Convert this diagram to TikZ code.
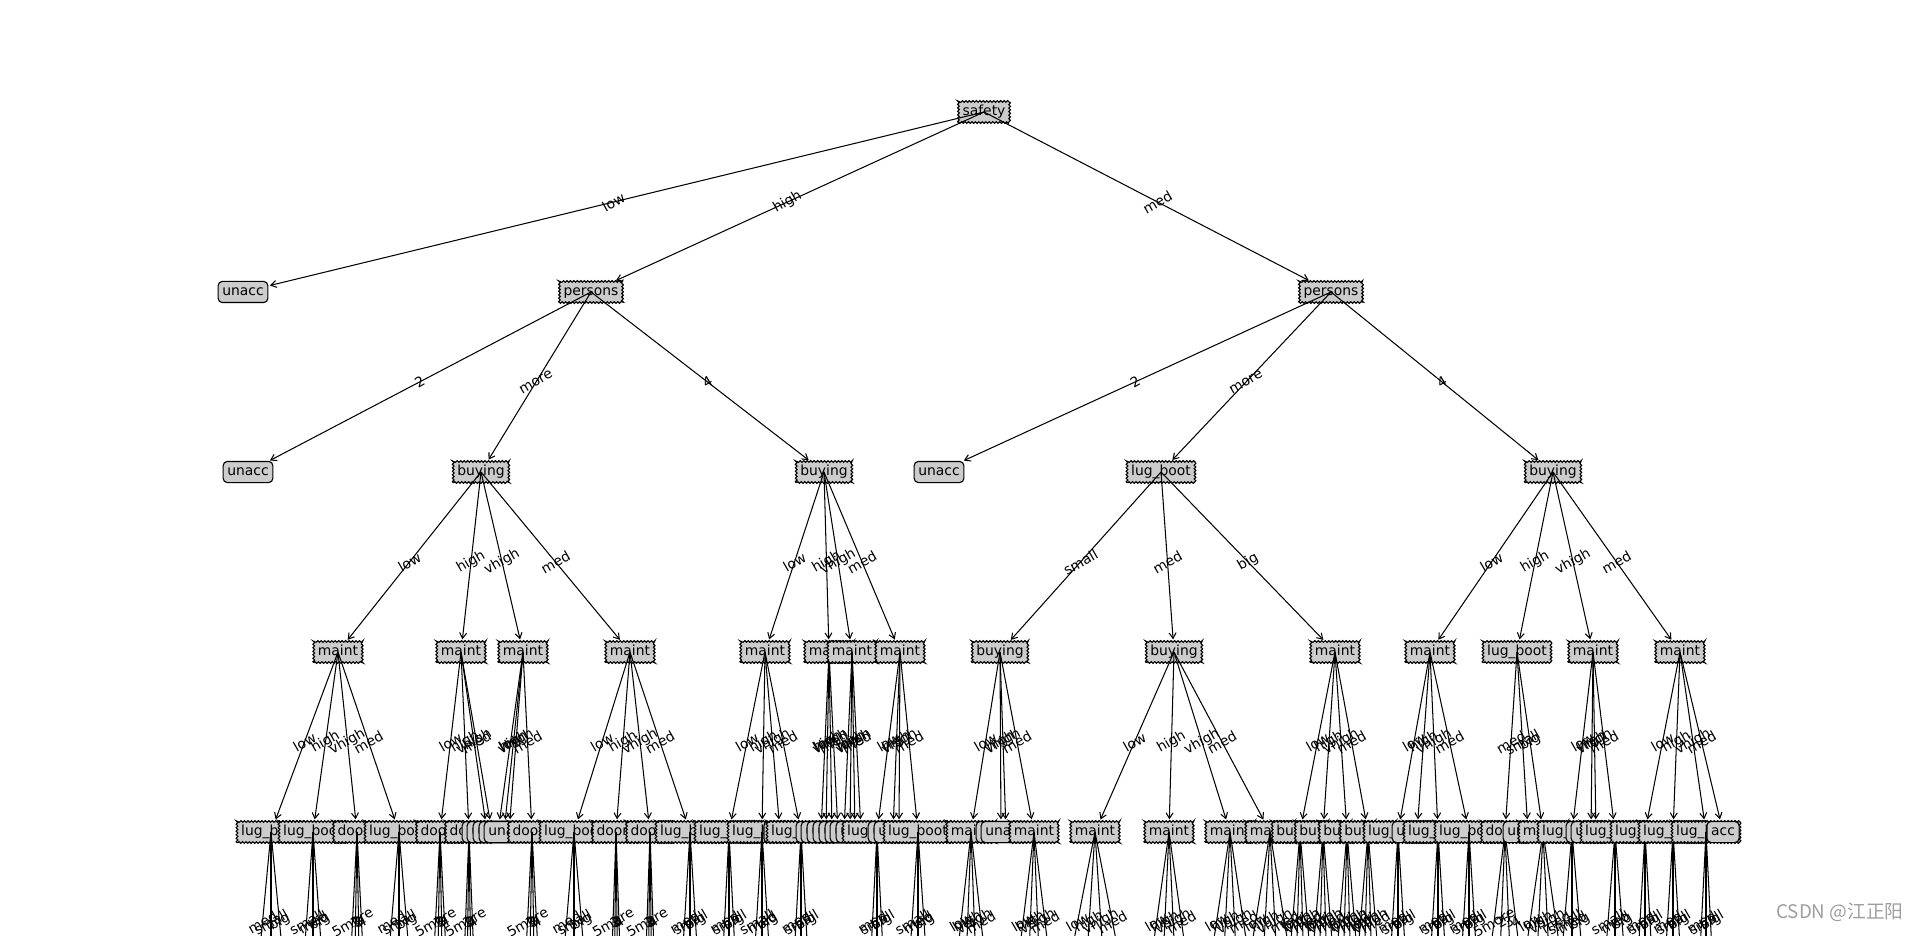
\documentclass[tikz,border=0pt]{standalone}
\usepackage{fontspec}
\setmainfont{DejaVu Sans}
\newfontfamily\cjkfont{Noto Sans CJK SC}
\usetikzlibrary{arrows.meta,calc,decorations.pathmorphing}
\definecolor{boxgray}{gray}{0.8}
\definecolor{wmgray}{gray}{0.62}
\tikzset{
 nd/.style={rectangle, inner xsep=3pt, inner ysep=3pt, text height=7.2pt, text depth=2pt, font=\fontsize{10}{12}\selectfont, outer sep=0pt},
 dec/.style={fill=boxgray, draw=black, line width=0.8pt, decorate, decoration={zigzag, segment length=2.5pt, amplitude=0.6pt}},
 leaf/.style={fill=boxgray, draw=black, line width=0.8pt, rounded corners=3pt},
 arr/.style={draw=black, line width=0.75pt, -{Straight Barb[length=4pt,width=5pt]}, shorten >=1.5pt},
 ln/.style={draw=black, line width=0.75pt},
 lbl/.style={rotate=30, inner sep=0pt, font=\fontsize{10}{12}\selectfont},
}
\newcommand\ndef[4]{\node[nd] (#1) at (#2,#3) {\phantom{#4}};\expandafter\gdef\csname T#1\endcsname{#4}}
\newcommand\nbox[2]{\path[#2] (#1.south west) rectangle (#1.north east);\node[nd] at (#1.center) {\csname T#1\endcsname};}
\newcommand\nedge[4]{\draw[arr] (#1.center) -- (#2);\path (#1.center) -- (#2.center) node[lbl,midway] {#3};\nbox{#2}{#4}}
\newcommand\nfan[4]{\foreach \flab [count=\fk] in {#4} {\pgfmathsetmacro\fdx{-#2+2*#2*(\fk-1)/(#3-1)}\coordinate (#1-\fk) at ($(#1.center)+(\fdx,180)$);\draw[ln] (#1.center) -- (#1-\fk) node[lbl,midway] {\flab};}}
\begin{document}
\begin{tikzpicture}[x=0.72pt, y={(0pt,-0.72pt)}]
\useasboundingbox (0,0) rectangle (1920,936);
\fill[white] (0,0) rectangle (1920,936);
\clip (0,0) rectangle (1920,936);
% ---------- node definitions ----------
\ndef{s}{984}{112}{safety}
\ndef{u0}{243}{292}{unacc}
\ndef{pA}{591}{292}{persons}
\ndef{pB}{1331}{292}{persons}
\ndef{u1}{248}{472}{unacc}
\ndef{bA1}{481}{472}{buying}
\ndef{bA2}{824}{472}{buying}
\ndef{u2}{939}{472}{unacc}
\ndef{lbB1}{1161}{472}{lug\_boot}
\ndef{bB2}{1553}{472}{buying}
\ndef{m1}{338}{652}{maint}
\ndef{m2}{461}{652}{maint}
\ndef{m3}{523}{652}{maint}
\ndef{m4}{630}{652}{maint}
\ndef{m5}{765}{652}{maint}
\ndef{m6}{829}{652}{maint}
\ndef{m7}{852}{652}{maint}
\ndef{m8}{900}{652}{maint}
\ndef{b1}{1000}{652}{buying}
\ndef{b2}{1174}{652}{buying}
\ndef{m9}{1335}{652}{maint}
\ndef{m10}{1430}{652}{maint}
\ndef{lb1}{1517}{652}{lug\_boot}
\ndef{m11}{1593}{652}{maint}
\ndef{m12}{1680}{652}{maint}
\ndef{n1}{271}{832}{lug\_boot}
\ndef{n2}{313}{832}{lug\_boot}
\ndef{n3}{357}{832}{doors}
\ndef{n4}{399}{832}{lug\_boot}
\ndef{n5}{440}{832}{doors}
\ndef{n6}{469}{832}{doors}
\ndef{n7}{487}{832}{unacc}
\ndef{n8}{492}{832}{unacc}
\ndef{n9}{498}{832}{unacc}
\ndef{n10}{504}{832}{unacc}
\ndef{n11}{509}{832}{unacc}
\ndef{n12}{532}{832}{doors}
\ndef{n13}{574}{832}{lug\_boot}
\ndef{n14}{616}{832}{doors}
\ndef{n15}{650}{832}{doors}
\ndef{n16}{690}{832}{lug\_boot}
\ndef{n17}{729}{832}{lug\_boot}
\ndef{n18}{762}{832}{lug\_boot}
\ndef{n19}{780}{832}{acc}
\ndef{n20}{801}{832}{lug\_boot}
\ndef{n21}{821}{832}{unacc}
\ndef{n22}{826}{832}{unacc}
\ndef{n23}{832}{832}{unacc}
\ndef{n24}{838}{832}{unacc}
\ndef{n25}{844}{832}{unacc}
\ndef{n26}{850}{832}{unacc}
\ndef{n27}{855}{832}{unacc}
\ndef{n28}{861}{832}{unacc}
\ndef{n29}{877}{832}{lug\_boot}
\ndef{n30}{893}{832}{unacc}
\ndef{n31}{899}{832}{unacc}
\ndef{n32}{918}{832}{lug\_boot}
\ndef{n33}{971}{832}{maint}
\ndef{n34}{1001}{832}{unacc}
\ndef{n35}{1006}{832}{unacc}
\ndef{n36}{1034}{832}{maint}
\ndef{n37}{1095}{832}{maint}
\ndef{n38}{1169}{832}{maint}
\ndef{n39}{1230}{832}{maint}
\ndef{n40}{1270}{832}{maint}
\ndef{n41}{1300}{832}{buying}
\ndef{n42}{1323}{832}{buying}
\ndef{n43}{1347}{832}{buying}
\ndef{n44}{1368}{832}{buying}
\ndef{n45}{1398}{832}{lug\_boot}
\ndef{n46}{1417}{832}{unacc}
\ndef{n47}{1438}{832}{lug\_boot}
\ndef{n48}{1469}{832}{lug\_boot}
\ndef{n49}{1505}{832}{doors}
\ndef{n50}{1528}{832}{unacc}
\ndef{n51}{1543}{832}{maint}
\ndef{n52}{1572}{832}{lug\_boot}
\ndef{n53}{1591}{832}{unacc}
\ndef{n54}{1596}{832}{unacc}
\ndef{n55}{1615}{832}{lug\_boot}
\ndef{n56}{1645}{832}{lug\_boot}
\ndef{n57}{1673}{832}{lug\_boot}
\ndef{n58}{1706}{832}{lug\_boot}
\ndef{n59}{1723}{832}{acc}
% ---------- drawing in tree order ----------
\nbox{s}{dec}
\nedge{s}{u0}{low}{leaf}
\nedge{s}{pA}{high}{dec}
 \nedge{pA}{u1}{2}{leaf}
 \nedge{pA}{bA1}{more}{dec}
  \nedge{bA1}{m1}{low}{dec}
   \nedge{m1}{n1}{low}{dec}\nfan{n1}{17}{3}{med,small,big}
   \nedge{m1}{n2}{high}{dec}\nfan{n2}{13}{3}{small,med,big}
   \nedge{m1}{n3}{vhigh}{dec}\nfan{n3}{9}{4}{5more,2,3,4}
   \nedge{m1}{n4}{med}{dec}\nfan{n4}{15}{3}{med,small,big}
  \nedge{bA1}{m2}{high}{dec}
   \nedge{m2}{n5}{low}{dec}\nfan{n5}{9}{4}{5more,2,3,4}
   \nedge{m2}{n6}{high}{dec}\nfan{n6}{7}{4}{5more,2,3,4}
   \nedge{m2}{n7}{vhigh}{leaf}
   \nedge{m2}{n8}{med}{leaf}
  \nedge{bA1}{m3}{vhigh}{dec}
   \nedge{m3}{n9}{low}{leaf}
   \nedge{m3}{n10}{high}{leaf}
   \nedge{m3}{n11}{vhigh}{leaf}
   \nedge{m3}{n12}{med}{dec}\nfan{n12}{9}{4}{5more,2,3,4}
  \nedge{bA1}{m4}{med}{dec}
   \nedge{m4}{n13}{low}{dec}\nfan{n13}{15}{3}{med,small,big}
   \nedge{m4}{n14}{high}{dec}\nfan{n14}{6}{4}{5more,2,3,4}
   \nedge{m4}{n15}{vhigh}{dec}\nfan{n15}{6}{4}{5more,2,3,4}
   \nedge{m4}{n16}{med}{dec}\nfan{n16}{11}{3}{med,small,big}
 \nedge{pA}{bA2}{4}{dec}
  \nedge{bA2}{m5}{low}{dec}
   \nedge{m5}{n17}{low}{dec}\nfan{n17}{9}{3}{med,small,big}
   \nedge{m5}{n18}{high}{dec}\nfan{n18}{11}{3}{small,med,big}
   \nedge{m5}{n19}{vhigh}{leaf}
   \nedge{m5}{n20}{med}{dec}\nfan{n20}{10}{3}{med,small,big}
  \nedge{bA2}{m6}{high}{dec}
   \nedge{m6}{n21}{low}{leaf}
   \nedge{m6}{n22}{high}{leaf}
   \nedge{m6}{n23}{vhigh}{leaf}
   \nedge{m6}{n24}{med}{leaf}
  \nedge{bA2}{m7}{vhigh}{dec}
   \nedge{m7}{n25}{low}{leaf}
   \nedge{m7}{n26}{high}{leaf}
   \nedge{m7}{n27}{vhigh}{leaf}
   \nedge{m7}{n28}{med}{leaf}
  \nedge{bA2}{m8}{med}{dec}
   \nedge{m8}{n29}{low}{dec}\nfan{n29}{9}{3}{med,small,big}
   \nedge{m8}{n30}{high}{leaf}
   \nedge{m8}{n31}{vhigh}{leaf}
   \nedge{m8}{n32}{med}{dec}\nfan{n32}{12}{3}{small,med,big}
\nedge{s}{pB}{med}{dec}
 \nedge{pB}{u2}{2}{leaf}
 \nedge{pB}{lbB1}{more}{dec}
  \nedge{lbB1}{b1}{small}{dec}
   \nedge{b1}{n33}{low}{dec}\nfan{n33}{20}{4}{low,high,vhigh,med}
   \nedge{b1}{n34}{high}{leaf}
   \nedge{b1}{n35}{vhigh}{leaf}
   \nedge{b1}{n36}{med}{dec}\nfan{n36}{22}{4}{low,high,vhigh,med}
  \nedge{lbB1}{b2}{med}{dec}
   \nedge{b2}{n37}{low}{dec}\nfan{n37}{35}{4}{low,high,vhigh,med}
   \nedge{b2}{n38}{high}{dec}\nfan{n38}{25}{4}{low,high,vhigh,med}
   \nedge{b2}{n39}{vhigh}{dec}\nfan{n39}{27}{4}{low,high,vhigh,med}
   \nedge{b2}{n40}{med}{dec}\nfan{n40}{29}{4}{low,high,vhigh,med}
  \nedge{lbB1}{m9}{big}{dec}
   \nedge{m9}{n41}{low}{dec}\nfan{n41}{15}{4}{low,high,vhigh,med}
   \nedge{m9}{n42}{high}{dec}\nfan{n42}{15}{4}{low,high,vhigh,med}
   \nedge{m9}{n43}{vhigh}{dec}\nfan{n43}{15}{4}{low,high,vhigh,med}
   \nedge{m9}{n44}{med}{dec}\nfan{n44}{15}{4}{low,high,vhigh,med}
 \nedge{pB}{bB2}{4}{dec}
  \nedge{bB2}{m10}{low}{dec}
   \nedge{m10}{n45}{low}{dec}\nfan{n45}{11}{3}{med,small,big}
   \nedge{m10}{n46}{high}{leaf}
   \nedge{m10}{n47}{vhigh}{dec}\nfan{n47}{11}{3}{med,small,big}
   \nedge{m10}{n48}{med}{dec}\nfan{n48}{11}{3}{med,small,big}
  \nedge{bB2}{lb1}{high}{dec}
   \nedge{lb1}{n49}{med}{dec}\nfan{n49}{22}{4}{5more,2,3,4}
   \nedge{lb1}{n50}{small}{leaf}
   \nedge{lb1}{n51}{big}{dec}\nfan{n51}{26}{4}{low,high,vhigh,med}
  \nedge{bB2}{m11}{vhigh}{dec}
   \nedge{m11}{n52}{low}{dec}\nfan{n52}{15}{3}{small,med,big}
   \nedge{m11}{n53}{high}{leaf}
   \nedge{m11}{n54}{vhigh}{leaf}
   \nedge{m11}{n55}{med}{dec}\nfan{n55}{14}{3}{small,med,big}
  \nedge{bB2}{m12}{med}{dec}
   \nedge{m12}{n56}{low}{dec}\nfan{n56}{10}{3}{med,small,big}
   \nedge{m12}{n57}{high}{dec}\nfan{n57}{11}{3}{med,small,big}
   \nedge{m12}{n58}{vhigh}{dec}\nfan{n58}{9}{3}{med,small,big}
   \nedge{m12}{n59}{med}{leaf}
% ---------- watermark ----------
\node[font=\cjkfont\fontsize{13.5}{16}\selectfont, text=wmgray, inner sep=0pt] (wm) at (1840,912) {CSDN @江正阳};
\end{tikzpicture}
\end{document}
